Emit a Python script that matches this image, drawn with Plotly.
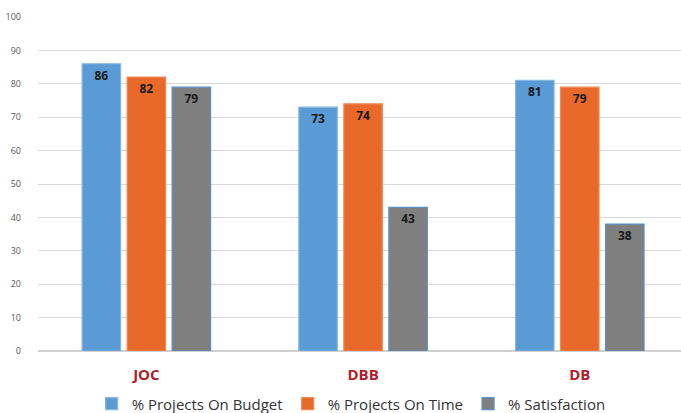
import plotly.graph_objects as go

categories = ["JOC", "DBB", "DB"]
on_budget = [86, 73, 81]
on_time = [82, 74, 79]
satisfaction = [79, 43, 38]
series_names = ["% Projects On Budget", "% Projects On Time", "% Satisfaction"]
y_ticks = [0, 10, 20, 30, 40, 50, 60, 70, 80, 90, 100]

colors = ["#5B9BD5", "#E8692A", "#7F7F7F"]
edges = ["#86B6E2", "#F08A55", "#5B8FC9"]

fig = go.Figure()
for name, vals, c, e in zip(series_names, [on_budget, on_time, satisfaction], colors, edges):
    fig.add_trace(go.Bar(
        x=categories, y=vals, name=name,
        marker=dict(color=c, line=dict(color=e, width=1.2)),
        text=[str(v) for v in vals], textposition="inside",
        insidetextanchor="end",
        textfont=dict(family="Open Sans", size=12, color="#1a1a1a", weight="bold"),
        cliponaxis=False,
    ))

fig.update_layout(
    width=681, height=413,
    margin=dict(l=38, r=0, t=17, b=62),
    paper_bgcolor="white", plot_bgcolor="white",
    barmode="group", bargap=0.377, bargroupgap=0.145,
    showlegend=True,
    legend=dict(orientation="h", xref="paper", x=0.487, xanchor="center",
                yref="container", y=0.022, yanchor="middle",
                bgcolor="rgba(0,0,0,0)",
                font=dict(family="Open Sans", size=15, color="#333333"),
                itemwidth=30, traceorder="normal"),
    xaxis=dict(range=[-0.5, 2.467],
               tickfont=dict(family="Open Sans", size=15, color="#B0202A", weight="bold"),
               ticks="", showline=False, ticklabelstandoff=13),
    yaxis=dict(range=[0, 100], tickvals=y_ticks, showgrid=True, gridcolor="#D9D9D9",
               gridwidth=1, zeroline=True, zerolinecolor="#D0D0D0",
               tickfont=dict(family="Open Sans", size=9, color="#595959"),
               ticklabelstandoff=16),
    uniformtext=dict(minsize=8, mode="show"),
)

fig.write_html("out.html", config={"displayModeBar": False},
               post_script="document.body.style.margin='0';")
